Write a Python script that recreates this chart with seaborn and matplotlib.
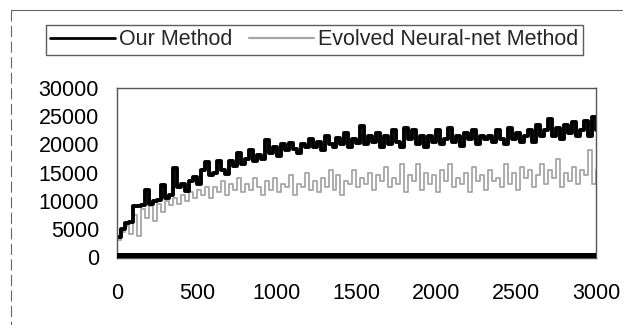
import numpy as np
import pandas as pd
import matplotlib
matplotlib.use("Agg")
import matplotlib.pyplot as plt
import seaborn as sns
from matplotlib.lines import Line2D

# generation axis (every 25 generations)
generations = list(range(0, 3001, 25))

# values
our_method = [
    3500, 5000, 6000, 6300, 9000, 9000, 9200, 12000, 9500, 10000,
    10200, 12800, 10500, 11000, 15800, 12500, 13000, 11800, 13500, 14200,
    13000, 15500, 16800, 14500, 15000, 17000, 15500, 14800, 17000, 16200,
    18500, 16500, 17500, 19000, 17000, 18200, 17500, 20800, 18500, 19500,
    18000, 20000, 19000, 20300, 19200, 18500, 20000, 19500, 21000, 19500,
    20500, 19000, 21500, 20000, 19500, 21200, 20000, 22000, 19500, 21000,
    20200, 23200, 20000, 21500, 20500, 22000, 19500, 21500, 20000, 22500,
    20500, 19500, 23000, 21000, 22500, 20000, 21500, 19500, 21500, 20500,
    22500, 20000, 21000, 23000, 20500, 21500, 19800, 22000, 21000, 22500,
    20000, 21500, 21000, 21500, 20500, 22500, 21000, 20000, 23000, 21000,
    22000, 20500, 21500, 22500, 20500, 23500, 21500, 22500, 24500, 21500,
    23000, 21000, 23500, 22000, 24000, 21500, 22500, 24200, 21500, 24800,
    22500,
]

evolved_nn = [
    3000, 4500, 5500, 4200, 7500, 3800, 8500, 7000, 9000, 6500,
    9500, 8000, 10000, 9200, 10500, 9500, 11000, 10000, 11500, 10500,
    12000, 11000, 12500, 10500, 12500, 11500, 13500, 11000, 13000, 12000,
    14000, 11500, 13000, 12000, 14000, 12500, 11000, 13500, 12000, 14000,
    11500, 13000, 12500, 14500, 11000, 13000, 12500, 15000, 12000, 13500,
    11500, 14000, 12500, 15500, 12000, 14500, 11000, 13500, 13000, 15500,
    12500, 14000, 13000, 15000, 12000, 14500, 13500, 16000, 12500, 14000,
    13000, 16500, 11500, 14500, 13500, 16500, 12000, 15000, 13000, 14500,
    11500, 15500, 13500, 16500, 12500, 14000, 13000, 15000, 11500, 16000,
    13500, 14500, 12000, 15500, 13500, 14000, 12500, 16500, 13000, 15000,
    12000, 16000, 14000, 15500, 12500, 14500, 16500, 13000, 15500, 14000,
    17500, 12500, 15000, 13500, 16000, 13000, 15500, 14500, 19000, 13000,
    15500,
]

x_ticks = [0, 500, 1000, 1500, 2000, 2500, 3000]
y_ticks = [0, 5000, 10000, 15000, 20000, 25000, 30000]

df = pd.DataFrame({"gen": generations, "our": our_method, "evo": evolved_nn})

sns.set_style("white")
plt.rcParams["font.family"] = ["Liberation Sans", "DejaVu Sans"]

fig = plt.figure(figsize=(6.31, 3.25), dpi=100)
ax = fig.add_axes([0.1854, 0.206, 0.759, 0.523])

sns.lineplot(data=df, x="gen", y="evo", ax=ax, color="#a6a6a6", lw=1.3,
             drawstyle="steps-post", label="Evolved Neural-net Method")
sns.lineplot(data=df, x="gen", y="our", ax=ax, color="black", lw=2.8,
             drawstyle="steps-post", label="Our Method")
ax.axhline(0, color="black", lw=6.5, zorder=5)

ax.set_xlim(0, 3000)
ax.set_ylim(-150, 30000)
ax.set_xticks(x_ticks)
ax.set_yticks(y_ticks)
ax.set_xlabel("")
ax.set_ylabel("")
ax.tick_params(axis="both", labelsize=15.5, length=0, colors="black")
ax.tick_params(axis="y", pad=13)
ax.tick_params(axis="x", pad=18)
for s in ax.spines.values():
    s.set_color("#555555")
    s.set_linewidth(1.0)

# legend in a box above the plot, Our Method first
handles, labels = ax.get_legend_handles_labels()
order = [1, 0]
leg = fig.legend([handles[i] for i in order], [labels[i] for i in order],
                 loc="center", bbox_to_anchor=(0.498, 0.877), ncol=2,
                 fontsize=15.5, frameon=True, fancybox=False, handlelength=3.0,
                 handletextpad=0.2, columnspacing=0.8, borderpad=0.2)
leg.get_frame().set_edgecolor("#333333")
leg.get_frame().set_linewidth(1.0)
leg.legend_handles[0].set_linewidth(2.0)
leg.legend_handles[1].set_linewidth(1.6)
if ax.get_legend():
    ax.get_legend().remove()

# scanned page border
fig.add_artist(Line2D([0.018, 0.985], [0.97, 0.97], color="#666666", lw=0.8))
fig.add_artist(Line2D([0.018, 0.018], [0.97, 0.0], color="#666666", lw=0.8,
                      linestyle=(0, (10, 4))))

fig.savefig("out.png", dpi=100)
